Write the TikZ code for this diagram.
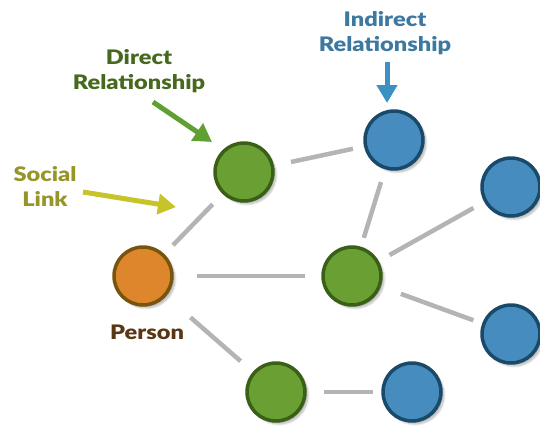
\documentclass[tikz,border=0pt]{standalone}
\usepackage{fontspec}
\setmainfont{Lato}
\newfontfamily\labelfont{Lato Black}[FakeStretch=1.18]
\usetikzlibrary{arrows.meta,shadows.blur}

\definecolor{greenfill}{HTML}{6A9F34}
\definecolor{greenline}{HTML}{3A5F16}
\definecolor{bluefill}{HTML}{468CBE}
\definecolor{blueline}{HTML}{1A4A6A}
\definecolor{orangefill}{HTML}{DE862C}
\definecolor{orangeline}{HTML}{78550F}
\definecolor{linkgray}{HTML}{B4B4B4}
\definecolor{directtext}{HTML}{46691E}
\definecolor{directarrow}{HTML}{5FA032}
\definecolor{indirecttext}{HTML}{3C78A0}
\definecolor{indirectarrow}{HTML}{3C91C3}
\definecolor{socialtext}{HTML}{969628}
\definecolor{socialarrow}{HTML}{C8C328}
\definecolor{persontext}{HTML}{5A3714}

\begin{document}
\begin{tikzpicture}[x=1pt,y=-1pt]

    \useasboundingbox (0,0) rectangle (540,426);

    \begin{scope}[every node/.style={circle,draw,line width=3.5pt,minimum size=58pt,inner sep=0pt,outer sep=0pt,
            blur shadow={shadow xshift=3pt,shadow yshift=-3pt,shadow blur steps=8,shadow opacity=30}}]
        \node[fill=orangefill,draw=orangeline] (1) at (143,276) {}; % Person %
        \node[fill=greenfill,draw=greenline] (2) at (244,172) {};
        \node[fill=bluefill,draw=blueline] (3) at (394,140) {};
        \node[fill=greenfill,draw=greenline] (4) at (352,276) {};
        \node[fill=bluefill,draw=blueline] (5) at (511,187) {};
        \node[fill=bluefill,draw=blueline] (6) at (511,334) {};
        \node[fill=greenfill,draw=greenline] (7) at (276,392) {};
        \node[fill=bluefill,draw=blueline] (8) at (412,392) {};
    \end{scope}

    \begin{scope}[every edge/.style={draw=linkgray,line width=4.5pt}]
        % Links %
        \path (1) edge [shorten <=14pt, shorten >=16pt] (2);
        \path (2) edge [shorten <=19pt, shorten >=13pt] (3);
        \path (3) edge [shorten <=15pt, shorten >=11pt] (4);
        \path (1) edge [shorten <=25pt, shorten >=18pt] (4);
        \path (4) edge [shorten <=14pt, shorten >=14pt] (5);
        \path (4) edge [shorten <=23pt, shorten >=11pt] (6);
        \path (1) edge [shorten <=34pt, shorten >=18pt] (7);
        \path (7) edge [shorten <=19pt, shorten >=10pt] (8);
    \end{scope}

    \begin{scope}[every node/.style={align=center,font=\fontsize{20}{25}\labelfont}]
        \node[text=persontext] (person) at (147,332) {Person};
        \node[text=socialtext] (social) at (45,186) {Social\\Link};
        \node[text=directtext] (direct) at (139,71) {Direct\\Relationship};
        \node[text=indirecttext] (indirect) at (385,33) {Indirect\\Relationship};
    \end{scope}

    \coordinate (s1) at (83,192);
    \coordinate (s2) at (176,207);
    \coordinate (d1) at (153,102);
    \coordinate (d2) at (212,142);
    \coordinate (i1) at (387,62);
    \coordinate (i2) at (387,103);

    \begin{scope}[every edge/.style={draw,line width=5pt,-{Triangle[width=20pt,length=18pt]}}]
        % Label arrows %
        \path (s1) edge [draw=socialarrow] (s2);
        \path (d1) edge [draw=directarrow] (d2);
        \path (i1) edge [draw=indirectarrow] (i2);
    \end{scope}

\end{tikzpicture}
\end{document}
